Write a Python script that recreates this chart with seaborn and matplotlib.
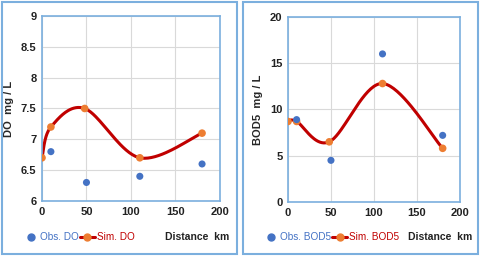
import numpy as np
import pandas as pd
import matplotlib.pyplot as plt
import seaborn as sns
from matplotlib.patches import Rectangle
from matplotlib.lines import Line2D

obs_x = [10, 50, 110, 180]
obs_do = [6.8, 6.3, 6.4, 6.6]
obs_bod = [8.9, 4.5, 16.0, 7.2]

sim_x = [0, 10, 48, 110, 180]
sim_do = [6.7, 7.2, 7.5, 6.7, 7.1]
sim_bod = [8.7, 8.7, 6.5, 12.8, 5.8]

BLUE = '#4472C4'
RED = '#C00000'
ORANGE = '#ED7D31'
FRAME = '#7BAFDE'

sns.set_theme(style="whitegrid")
plt.rcParams['font.family'] = ['Liberation Sans', 'DejaVu Sans']
NARROW = ['Liberation Sans Narrow', 'Liberation Sans']


def smooth(x, y, n=40):
    # Catmull-Rom style smoothing, like Excel's "smoothed line"
    x = np.asarray(x, float)
    y = np.asarray(y, float)
    px = np.concatenate([[x[0]], x, [x[-1]]])
    py = np.concatenate([[y[0]], y, [y[-1]]])
    xs, ys = [], []
    for i in range(1, len(px) - 2):
        t = np.linspace(0, 1, n)
        p0, p1, p2, p3 = [np.array([px[j], py[j]]) for j in range(i - 1, i + 3)]
        c1 = p1 + (p2 - p0) / 6
        c2 = p2 - (p3 - p1) / 6
        pts = ((1 - t) ** 3)[:, None] * p1 + (3 * (1 - t) ** 2 * t)[:, None] * c1 \
            + (3 * (1 - t) * t ** 2)[:, None] * c2 + (t ** 3)[:, None] * p2
        xs.append(pts[:, 0])
        ys.append(pts[:, 1])
    return np.concatenate(xs), np.concatenate(ys)


fig = plt.figure(figsize=(4.8, 2.56), dpi=100)

# outer panel frames
for x0 in [0.004, 0.506]:
    fig.patches.append(Rectangle((x0, 0.008), 0.489, 0.984, transform=fig.transFigure,
                                 fill=False, edgecolor=FRAME, linewidth=1.5))

panels = [
    dict(rect=[0.0875, 0.215, 0.3705, 0.7225], obs=obs_do, sim=sim_do,
         ylim=(6, 9), yticks=[6, 6.5, 7, 7.5, 8, 8.5, 9], ylabel='DO  mg / L',
         obs_lab='Obs. DO', sim_lab='Sim. DO', leg_x=0.048, dist_x=0.41),
    dict(rect=[0.6, 0.211, 0.358, 0.723], obs=obs_bod, sim=sim_bod,
         ylim=(0, 20), yticks=[0, 5, 10, 15, 20], ylabel='BOD5  mg / L',
         obs_lab='Obs. BOD5', sim_lab='Sim. BOD5', leg_x=0.548, dist_x=0.917),
]

for p in panels:
    ax = fig.add_axes(p['rect'])
    sx, sy = smooth(sim_x, p['sim'])
    sns.lineplot(x=sx, y=sy, ax=ax, color=RED, linewidth=2.2, sort=False, estimator=None)
    sns.scatterplot(x=sim_x, y=p['sim'], ax=ax, color=ORANGE, s=30, edgecolor='none', zorder=5)
    sns.scatterplot(x=obs_x, y=p['obs'], ax=ax, color=BLUE, s=26, edgecolor='none', zorder=5)
    ax.set_xlim(0, 200)
    ax.set_ylim(*p['ylim'])
    ax.set_xticks([0, 50, 100, 150, 200])
    ax.set_yticks(p['yticks'])
    ax.set_yticklabels([f'{v:g}' for v in p['yticks']])
    ax.set_facecolor('white')
    ax.grid(True, color='#D9D9D9', linewidth=0.8)
    for s in ax.spines.values():
        s.set_color(FRAME)
        s.set_linewidth(1.2)
    ax.tick_params(labelsize=8, pad=4, length=0, colors='#222222')
    for lab in ax.get_xticklabels() + ax.get_yticklabels():
        lab.set_fontweight('bold')
    ax.set_ylabel(p['ylabel'], fontsize=8, fontweight='bold', labelpad=5)
    ax.set_xlabel('')

    handles = [
        Line2D([], [], marker='o', linestyle='none', color=BLUE, markersize=5),
        Line2D([], [], marker='o', color=RED, markerfacecolor=ORANGE,
               markeredgecolor=ORANGE, linewidth=2.2, markersize=5),
    ]
    fig.legend(handles, [p['obs_lab'], p['sim_lab']], loc='center left',
               bbox_to_anchor=(p['leg_x'], 0.074), ncol=2, frameon=False,
               prop={'family': NARROW, 'size': 7.2}, handlelength=1.5,
               handletextpad=0.2, columnspacing=0.1, labelcolor=[BLUE, RED],
               borderpad=0, borderaxespad=0)
    fig.text(p['dist_x'], 0.074, 'Distance  km', fontsize=7.5, fontweight='bold',
             family=NARROW, ha='center', va='center', color='#222222')

fig.savefig('out.png', dpi=100)
